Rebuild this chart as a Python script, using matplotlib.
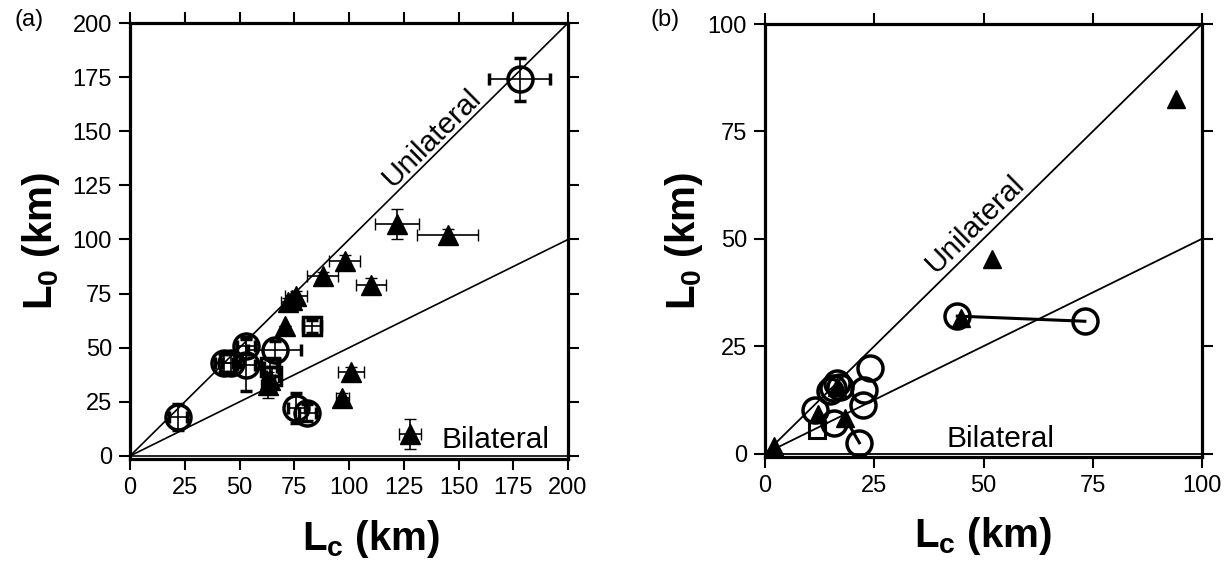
import matplotlib
matplotlib.use("Agg")
import matplotlib.pyplot as plt
import numpy as np

plt.rcParams['font.family'] = ['Liberation Sans', 'DejaVu Sans']
plt.rcParams['mathtext.fontset'] = 'custom'
plt.rcParams['mathtext.rm'] = 'Liberation Sans'
plt.rcParams['mathtext.bf'] = 'Liberation Sans:bold'

# ---------------- Panel (a) data ----------------
a_circ_x = [178, 22, 53, 66, 43, 46, 53, 76, 81]
a_circ_y = [174, 18, 51, 49, 43, 43, 42, 22, 20]
a_circ_xerr = [14, 4, 4, 12, 4, 4, 4, 4, 4]
a_circ_yerr = [10, 6, 4, 4, 4, 4, 12, 7, 4]

a_sq_x = [83, 64, 65]
a_sq_y = [60, 41, 37]
a_sq_xerr = [4, 3, 3]
a_sq_yerr = [3, 4, 4]

a_tri_x = [122, 145, 128, 98, 88, 110, 76, 72, 74, 71, 101, 97, 63, 64]
a_tri_y = [107, 102, 10, 90, 83, 79, 74, 71, 72, 60, 39, 27, 33, 35]
a_tri_xerr = [10, 14, 5, 7, 7, 7, 5, 3, 2, 0, 6, 3, 3, 2]
a_tri_yerr = [7, 3, 7, 3, 2, 3, 2, 2, 2, 0, 2, 2, 6, 2]

# ---------------- Panel (b) data ----------------
b_tri_x = [94, 52, 44.8, 2, 12.2, 18.3, 16.5]
b_tri_y = [82.5, 45.3, 31.6, 1.7, 9.1, 8.3, 15.5]

b_circ_x = [44, 73.2, 24, 22.7, 22.5, 21.6, 16.4, 15.6, 14.9, 17.2, 11.4, 15.8]
b_circ_y = [32, 30.8, 20, 14.7, 11.4, 2.5, 16.4, 15.3, 14.5, 15.6, 10.2, 7.2]

b_sq_x = [11.8]
b_sq_y = [5.6]

b_link1_x = [44, 73.2]
b_link1_y = [32, 30.8]
b_link2_x = [18.3, 21.6]
b_link2_y = [8.3, 2.5]

a_ticks = [0, 25, 50, 75, 100, 125, 150, 175, 200]
b_ticks = [0, 25, 50, 75, 100]

fig = plt.figure(figsize=(12.3, 5.64), dpi=100)
axa = fig.add_axes([130/1230, 105/564, 438/1230, 436/564])
axb = fig.add_axes([765/1230, 107/564, 437/1230, 433/564])

def style(ax, ticks, lim, ylow, xlab_x, ylab_x):
    ax.set_xlim(0, lim)
    ax.set_ylim(ylow, lim)
    ax.set_xticks(ticks)
    ax.set_yticks(ticks)
    for s in ax.spines.values():
        s.set_linewidth(2.3)
    ax.tick_params(direction='out', length=8, width=1.5, labelsize=17,
                   top=True, right=True, pad=5)
    ax.set_xlabel(r'$\mathbf{L_c}$ (km)', fontsize=29, fontweight='bold')
    ax.set_ylabel(r'$\mathbf{L_0}$ (km)', fontsize=29, fontweight='bold')
    ax.xaxis.set_label_coords(xlab_x, -0.135)
    ax.yaxis.set_label_coords(ylab_x, 0.5)

# ---- panel a ----
ax = axa
style(ax, a_ticks, 200, -1.4, 0.55, -0.155)
xx = np.array([0, 200])
ax.plot(xx, xx, color='black', lw=1.2, zorder=1)
ax.plot(xx, xx / 2, color='black', lw=1.2, zorder=1)
ax.plot(xx, [0, 0], color='black', lw=1.2, zorder=1)
ekw = dict(ecolor='black', elinewidth=1.2, capsize=4, capthick=1.2, ls='none')
ax.errorbar(a_circ_x, a_circ_y, xerr=a_circ_xerr, yerr=a_circ_yerr, marker='o',
            ms=18, mfc='none', mec='black', mew=2.5, zorder=3, **ekw)
ax.errorbar(a_sq_x, a_sq_y, xerr=a_sq_xerr, yerr=a_sq_yerr, marker='s',
            ms=13, mfc='none', mec='black', mew=2.5, zorder=3, **ekw)
ax.errorbar(a_tri_x, a_tri_y, xerr=a_tri_xerr, yerr=a_tri_yerr, marker='^',
            ms=15, mfc='black', mec='black', mew=1, zorder=3, **ekw)
ax.text(138, 147, 'Unilateral', rotation=44.7, fontsize=21.5, ha='center', va='center',
        rotation_mode='anchor')
ax.text(167, 7.4, 'Bilateral', fontsize=21.5, ha='center', va='center')
fig.text(14/1230, 1 - 20/564, '(a)', fontsize=17, ha='left', va='center')

# ---- panel b ----
ax = axb
style(ax, b_ticks, 100, -0.8, 0.5, -0.137)
xx = np.array([0, 100])
ax.plot(xx, xx, color='black', lw=1.3, zorder=1)
ax.plot(xx, xx / 2, color='black', lw=1.3, zorder=1)
ax.plot(xx, [0, 0], color='black', lw=1.3, zorder=1)
ax.plot(b_link1_x, b_link1_y, color='black', lw=2.2, zorder=2)
ax.plot(b_link2_x, b_link2_y, color='black', lw=2.2, zorder=2)
ax.plot(b_circ_x, b_circ_y, 'o', ms=18, mfc='none', mec='black', mew=2.5, zorder=3)
ax.plot(b_sq_x, b_sq_y, 's', ms=12, mfc='none', mec='black', mew=2.2, zorder=3)
ax.plot(b_tri_x, b_tri_y, '^', ms=12.5, mfc='black', mec='black', zorder=4)
ax.text(48, 53.5, 'Unilateral', rotation=44.5, fontsize=21.5, ha='center', va='center',
        rotation_mode='anchor')
ax.text(53.8, 3.4, 'Bilateral', fontsize=21.5, ha='center', va='center')
fig.text(650/1230, 1 - 20/564, '(b)', fontsize=17, ha='left', va='center')

fig.savefig('out.png', dpi=100)
